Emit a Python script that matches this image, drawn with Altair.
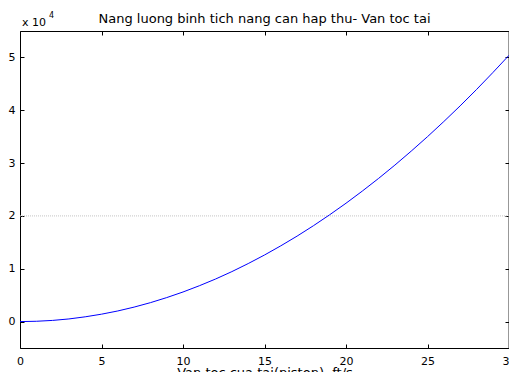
import altair as alt
import pandas as pd

# Data
speed = [0, 1, 2, 3, 4, 5, 6, 7, 8, 9, 10, 11, 12, 13, 14, 15,
         16, 17, 18, 19, 20, 21, 22, 23, 24, 25, 26, 27, 28, 29, 30]
energy = [0, 60, 220, 500, 900, 1400, 2010, 2740, 3580, 4540, 5600,
          6780, 8060, 9460, 10980, 12600, 14340, 16180, 18140, 20220,
          22400, 24700, 27100, 29620, 32260, 35000, 37860, 40820, 43900,
          47100, 50400]
x_ticks = [0, 5, 10, 15, 20, 25, 30]
y_ticks = [0, 10000, 20000, 30000, 40000, 50000]
ref_line = [20000]
title_text = ["Nang luong binh tich nang can hap thu- Van toc tai"]
x_title = "Van toc cua tai(piston), ft/s"
exp_base = ["x 10"]
exp_power = ["4"]

FONT = "DejaVu Sans"
W, H = 489, 317

df = pd.DataFrame({"v": speed, "e": energy})

xscale = alt.Scale(domain=[0, 30], nice=False, zero=False)
yscale = alt.Scale(domain=[-5000, 55000], nice=False, zero=False)

lab = dict(labelFont=FONT, labelFontSize=11, labelColor="black")
box = dict(grid=False, domain=True, domainColor="black", domainWidth=1,
           ticks=False, offset=0)
tick_ax = dict(grid=False, domain=False, ticks=True, tickSize=4,
               tickColor="black", tickWidth=1, offset=-4, labels=False,
               title=None)

# main curve with labelled bottom/left axes forming the box edges
line = alt.Chart(df).mark_line(color="#0000ff", strokeWidth=1).encode(
    x=alt.X("v:Q", scale=xscale,
            axis=alt.Axis(orient="bottom", values=x_ticks, labelPadding=7,
                          labelFlush=False, **lab, **box,
                          title=x_title, titleFont=FONT, titleFontSize=13,
                          titleFontWeight="normal", titleColor="black",
                          titleBaseline="alphabetic", titleY=28)),
    y=alt.Y("e:Q", scale=yscale,
            axis=alt.Axis(orient="left", values=y_ticks, labelPadding=5,
                          labelExpr="datum.value / 10000", title=None,
                          **lab, **box)),
)

# top/right box edges
edges = alt.Chart(df).mark_point(opacity=0, size=0).encode(
    x=alt.X("v:Q", scale=xscale,
            axis=alt.Axis(orient="top", values=x_ticks, labels=False,
                          title=None, **box)),
    y=alt.Y("e:Q", scale=yscale,
            axis=alt.Axis(orient="right", values=y_ticks, labels=False,
                          title=None,
                          **{**box, "domainWidth": 2, "domainColor": "#333333"})),
)

# inward ticks, bottom/left
ticks_bl = alt.Chart(df).mark_point(opacity=0, size=0).encode(
    x=alt.X("v:Q", scale=xscale,
            axis=alt.Axis(orient="bottom", values=x_ticks, **tick_ax)),
    y=alt.Y("e:Q", scale=yscale,
            axis=alt.Axis(orient="left", values=y_ticks, **tick_ax)),
)

# inward ticks, top/right
ticks_tr = alt.Chart(df).mark_point(opacity=0, size=0).encode(
    x=alt.X("v:Q", scale=xscale,
            axis=alt.Axis(orient="top", values=x_ticks, **tick_ax)),
    y=alt.Y("e:Q", scale=yscale,
            axis=alt.Axis(orient="right", values=y_ticks, **tick_ax)),
)

rule = alt.Chart(pd.DataFrame({"y": ref_line})).mark_rule(
    color="#c4c4c4", strokeWidth=1, strokeDash=[1, 1]
).encode(y=alt.Y("y:Q", scale=yscale, axis=None))

title_txt = alt.Chart(pd.DataFrame({"t": title_text})).mark_text(
    font=FONT, fontSize=13, align="center", baseline="alphabetic",
    color="black"
).encode(text="t:N", x=alt.value(W / 2), y=alt.value(-8))

base_txt = alt.Chart(pd.DataFrame({"t": exp_base})).mark_text(
    font=FONT, fontSize=11, align="left", baseline="alphabetic", color="black"
).encode(text="t:N", x=alt.value(2), y=alt.value(-5))

pow_txt = alt.Chart(pd.DataFrame({"t": exp_power})).mark_text(
    font=FONT, fontSize=8, align="left", baseline="alphabetic", color="black"
).encode(text="t:N", x=alt.value(29), y=alt.value(-13))

chart = alt.layer(
    rule, line, edges, ticks_bl, ticks_tr, title_txt, base_txt, pow_txt
).resolve_axis(
    x="independent", y="independent"
).properties(
    width=W, height=H,
    autosize=alt.AutoSizeParams(type="none"),
    padding={"left": 12, "top": 23, "right": 0, "bottom": 24},
).configure_view(strokeWidth=0).configure(background="white")

chart.save("out.html", embed_options={"renderer": "svg", "actions": False})
